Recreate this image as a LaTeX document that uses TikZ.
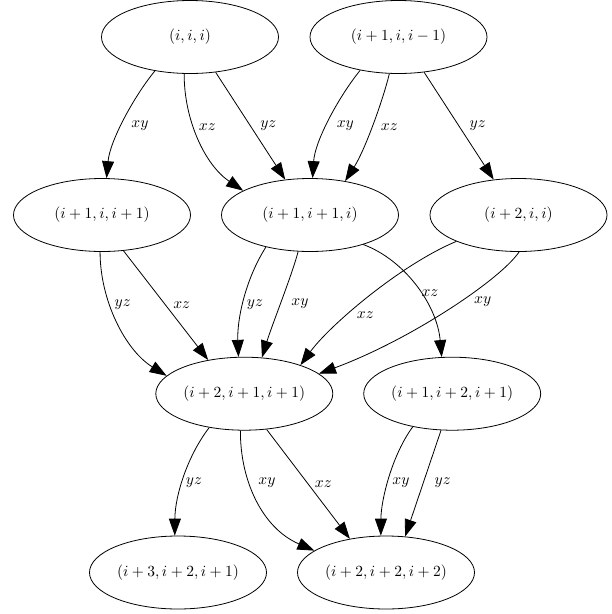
\documentclass[tikz,border=0pt]{standalone}
\usetikzlibrary{shapes.geometric,arrows.meta}
\newcommand{\gmath}[1]{\scalebox{1.55}{$#1$}}
\begin{document}
\begin{tikzpicture}[x=1pt,y=-1pt,
  vtx/.style={ellipse,draw,line width=0.8pt,minimum width=177pt,minimum height=73pt,inner sep=0pt},
  lbl/.style={inner sep=0pt},
  arr/.style={line width=0.8pt,-{Triangle[length=17pt,width=12pt]}}]
\useasboundingbox (0,0) rectangle (612,614);
\node[vtx] (A) at (190,37) {\gmath{(i,i,i)}};
\node[vtx] (B) at (398.5,37) {\gmath{(i+1,i,i-1)}};
\node[vtx] (C) at (102,215) {\gmath{(i+1,i,i+1)}};
\node[vtx] (D) at (310,215) {\gmath{(i+1,i+1,i)}};
\node[vtx] (E) at (518.5,215) {\gmath{(i+2,i,i)}};
\node[vtx] (F) at (244.3,393.7) {\gmath{(i+2,i+1,i+1)}};
\node[vtx] (G) at (452.2,393.7) {\gmath{(i+1,i+2,i+1)}};
\node[vtx] (H) at (178,572.5) {\gmath{(i+3,i+2,i+1)}};
\node[vtx] (I) at (386,572.5) {\gmath{(i+2,i+2,i+2)}};

\draw[arr] (A.-136) .. controls (135,95) and (110,140) .. (C.83);
\draw[arr] (A.-99) .. controls (184,120) and (205,165) .. (D.160);
\draw[arr] (A.-54) -- (D.125);
\draw[arr] (B.-139) .. controls (340,95) and (315,140) .. (D.86);
\draw[arr] (B.-104) .. controls (383,100) and (365,150) .. (D.44);
\draw[arr] (B.-54) -- (E.125);
\draw[arr] (C.-93) .. controls (100,300) and (125,350) .. (F.167);
\draw[arr] (C.-59) -- (F.137);
\draw[arr] (D.-144) .. controls (245,280) and (237,320) .. (F.99.5);
\draw[arr] (D.-108) .. controls (292,275) and (272,325) .. (F.64);
\draw[arr] (D.-29) .. controls (405,260) and (437,305) .. (G.106);
\draw[arr] (E.-157) .. controls (400,265) and (330,325) .. (F.27);
\draw[arr] (E.-89) .. controls (500,280) and (410,340) .. (F.15);
\draw[arr] (F.-136) .. controls (188,455) and (175,495) .. (H.95);
\draw[arr] (F.-96) .. controls (240,480) and (262,528) .. (I.163);
\draw[arr] (F.-58) -- (I.137);
\draw[arr] (G.-140) .. controls (392,455) and (381,500) .. (I.98);
\draw[arr] (G.-107) -- (I.62);

\node[lbl] (l1) at (140,126) {\gmath{xy}};
\node[lbl] (l2) at (207.3,127.3) {\gmath{xz}};
\node[lbl] (l3) at (268.3,126) {\gmath{yz}};
\node[lbl] (l4) at (345.3,126) {\gmath{xy}};
\node[lbl] (l5) at (389.3,127.3) {\gmath{xz}};
\node[lbl] (l6) at (477.7,126) {\gmath{yz}};
\node[lbl] (l7) at (122.7,305) {\gmath{yz}};
\node[lbl] (l8) at (181.7,305) {\gmath{xz}};
\node[lbl] (l9) at (255,304.3) {\gmath{yz}};
\node[lbl] (l10) at (300,304) {\gmath{xy}};
\node[lbl] (l11) at (430,293.3) {\gmath{xz}};
\node[lbl] (l12) at (365.3,315) {\gmath{xz}};
\node[lbl] (l13) at (482.7,301.7) {\gmath{xy}};
\node[lbl] (l14) at (194,482.3) {\gmath{yz}};
\node[lbl] (l15) at (267,482.5) {\gmath{xy}};
\node[lbl] (l16) at (323.3,484) {\gmath{xz}};
\node[lbl] (l17) at (401,482.3) {\gmath{xy}};
\node[lbl] (l18) at (442.7,482.3) {\gmath{yz}};
\end{tikzpicture}
\end{document}
